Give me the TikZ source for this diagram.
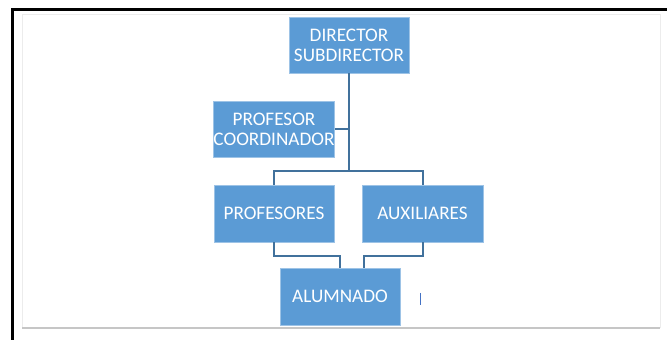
\documentclass[tikz,border=0pt]{standalone}
\usepackage{fontspec}
\setmainfont{Carlito}
\usetikzlibrary{calc}
\definecolor{cajaazul}{HTML}{5B9BD5}
\definecolor{lineaazul}{HTML}{41719C}
\definecolor{cursorazul}{HTML}{4472C4}

\begin{document}
\begin{tikzpicture}[x=1pt,y=1pt,
  caja/.style={rectangle,fill=cajaazul,draw=cajaazul!60!white,line width=0.8pt,text=white,
    minimum width=120pt,minimum height=56pt,inner sep=0pt,align=center,
    font=\fontsize{19.2}{20}\selectfont},
  linea/.style={draw=lineaazul,line width=2pt}]
\useasboundingbox (0,0) rectangle (667,340);
\fill[white] (0,0) rectangle (667,340);
\draw[gray!15,line width=1pt] (22,12) rectangle (660,325);
\draw[gray!45,line width=2pt] (22,12) -- (660,12);
\draw[black,line width=3pt] (12,0) -- (12,330) -- (667,330);
\node[caja] (dir) at (349,295) {DIRECTOR\\SUBDIRECTOR};
\node[caja] (coord) at (274,211) {PROFESOR\\COORDINADOR};
\node[caja,minimum height=57pt] (prof) at (274,126.5) {PROFESORES};
\node[caja,minimum width=121pt,minimum height=57pt] (aux) at (422.5,126.5) {AUXILIARES};
\node[caja,minimum height=57pt] (alum) at (340,43.5) {ALUMNADO};
\coordinate (bus) at (349,169);
\draw[linea] (dir.south) -- (bus);
\draw[linea] (coord.east) -- (coord.east -| bus);
\draw[linea] (prof.north) |- (bus) -| (aux.north);
\draw[linea] (prof.south) -- ++(0,-14) -| (alum.north);
\draw[linea] (aux.south) -- ++(0,-14) -| ([xshift=24pt]alum.north);
\draw[cursorazul,line width=1pt] (420,47) -- (420,35);
\end{tikzpicture}
\end{document}
